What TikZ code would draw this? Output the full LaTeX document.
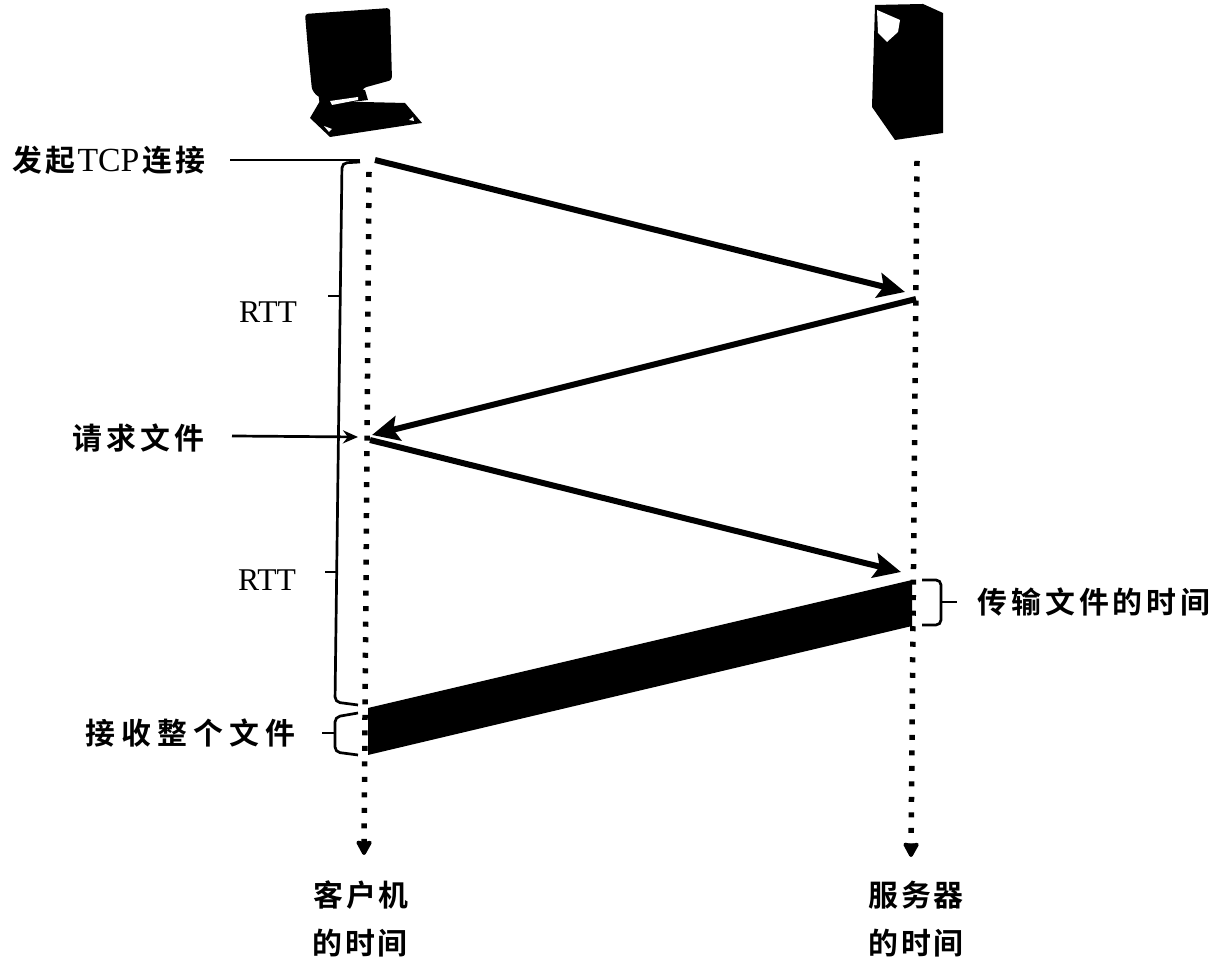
\documentclass[tikz,border=0pt]{standalone}
\usepackage{fontspec}
\setmainfont{Liberation Serif}
\newfontfamily\cjk{Noto Sans CJK SC Bold}
\usetikzlibrary{arrows.meta}
\def\spaced#1#2{{\cjk\addfontfeature{LetterSpace=#1}#2}}
\tikzset{
	timeline/.style={line width=0.55mm, dash pattern=on 0.5mm off 1.05mm, -{Stealth[length=1.7mm,width=1.8mm,inset=0.2mm,round,sep=-0.1mm]}},
	message/.style={line width=0.6mm, -{Stealth[length=2.7mm,width=2.5mm,inset=0.5mm]}},
	leader/.style={line width=0.27mm},
	brace/.style={line width=0.27mm, rounded corners=0.5mm},
	caption/.style={inner sep=0pt, font=\fontsize{8.5pt}{9pt}\selectfont},
	latin/.style={inner sep=0pt, font=\fontsize{9pt}{10pt}\selectfont},
}

\begin{document}
\begin{tikzpicture}[x=0.01cm, y=-0.01cm]
		%%%%% START %%%%%
		\useasboundingbox (0, 0) rectangle (1230, 974);
		
		% computer
		\fill[black, rounded corners=0.3mm] (305, 14) -- (390, 8) -- (392, 80) -- (363, 88) -- (362, 98) -- (318, 97) -- (312, 90) -- (308, 50) -- cycle;
		\fill[black] (320, 101) -- (405, 103) -- (422, 123) -- (330, 137) -- (310, 118) -- cycle;
		\fill[black] (318, 92) -- (365, 90) -- (368, 100) -- (320, 106) -- cycle;
		\fill[white] (330, 101) -- (358, 97) -- (358, 100) -- (332, 105) -- cycle;
		\fill[white] (324, 126) -- (332, 129) -- (329, 132) -- cycle;
		\fill[white] (409, 120) -- (413, 117) -- (414, 121) -- cycle;
		
		% server
		\fill[black] (875, 5) -- (923, 4) -- (943, 13) -- (943, 133) -- (895, 140) -- (872, 107) -- cycle;
		\fill[white] (877, 10) -- (900, 20) -- (898, 32) -- (887, 42) -- (878, 33) -- cycle;
		
		\coordinate (clienttop) at (369, 172);
		\coordinate (clientend) at (364, 854);
		\coordinate (servertop) at (917, 161);
		\coordinate (serverend) at (911, 856);
		\coordinate (syn) at (375, 160);
		\coordinate (synack) at (905, 292);
		\coordinate (ack) at (916, 299);
		\coordinate (ackend) at (372, 435);
		\coordinate (req) at (370, 440);
		\coordinate (reqend) at (901, 572);
		
		\draw[timeline] (clienttop) -- (clientend);
		\draw[timeline] (servertop) -- (serverend);
		
		\draw[message] (syn) -- (synack);
		\draw[message] (ack) -- (ackend);
		\draw[message] (req) -- (reqend);
		
		% file being sent
		\fill[black] (912, 580) -- (912, 626) -- (368, 755) -- (368, 708) -- cycle;
		
		\node[caption, anchor=west] (start) at (12, 160) {\spaced{10}{发起}\hspace{0.6pt}{\fontsize{9.6pt}{10pt}\selectfont TCP}\hspace{0.8pt}\spaced{10}{连接}};
		\node[caption, anchor=west] (request) at (72, 438) {\spaced{14}{请求文件}};
		\node[caption, anchor=west] (receive) at (85, 733) {\spaced{20}{接收整个文件}};
		\node[caption, anchor=west] (transmit) at (977, 602) {\spaced{13}{传输文件的时间}};
		\node[latin] (rttone) at (268, 312) {RTT};
		\node[latin] (rtttwo) at (267, 580) {RTT};
		\node[caption] (client) at (361, 895) {\spaced{10}{客户机}};
		\node[caption] (clienttime) at (360, 943) {\spaced{10}{的时间}};
		\node[caption] (server) at (916, 895) {\spaced{10}{服务器}};
		\node[caption] (servertime) at (916, 943) {\spaced{10}{的时间}};
		
		\coordinate (startend) at (360, 160);
		\coordinate (requestend) at (358, 437);
		\draw[leader] (230, 160) coordinate (startfoot) -- (startend);
		\draw[leader, -{Stealth[length=1.5mm,width=1.3mm]}] (232, 436) coordinate (requestfoot) -- (requestend);
		
		% long bracket on the client side
		\draw[brace] (360, 162) -- (342, 163) -- (335, 702) -- (358, 705);
		\draw[leader] (340, 296) -- (328, 296);
		\draw[leader] (337, 572) -- (325, 572);
		
		% short brackets
		\draw[brace] (358, 713) -- (335, 717) -- (335, 752) -- (358, 755);
		\draw[leader] (322, 733) -- (335, 733);
		\draw[brace] (922, 580) -- (941, 580) -- (941, 625) -- (922, 625);
		\draw[leader] (941, 602) -- (957, 602);
		
		%%%%% END %%%%%
	\end{tikzpicture}
\end{document}
